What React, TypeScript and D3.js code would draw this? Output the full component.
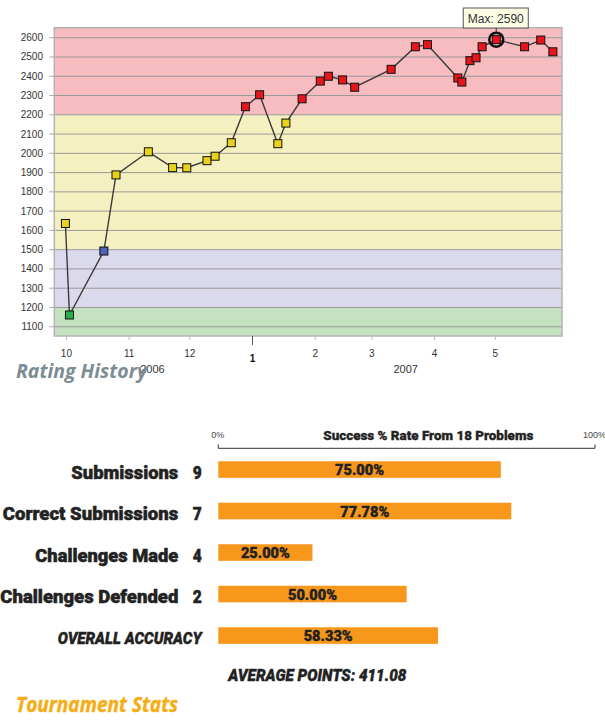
import React, { useEffect, useRef } from "react";
import * as d3 from "d3";

// rating history
const ratingDates = [
  "2006-09-30", "2006-10-02", "2006-10-19", "2006-10-25", "2006-11-10",
  "2006-11-22", "2006-11-29", "2006-12-09", "2006-12-13", "2006-12-21",
  "2006-12-28", "2007-01-04", "2007-01-13", "2007-01-17", "2007-01-25",
  "2007-02-03", "2007-02-07", "2007-02-14", "2007-02-20", "2007-03-10",
  "2007-03-22", "2007-03-28", "2007-04-12", "2007-04-14", "2007-04-18",
  "2007-04-21", "2007-04-24", "2007-05-01", "2007-05-15", "2007-05-23",
  "2007-05-29",
];
const ratingValues = [
  1636, 1161, 1493, 1888, 2008, 1926, 1925, 1962, 1985, 2055,
  2242, 2304, 2050, 2157, 2283, 2375, 2400, 2381, 2343, 2436,
  2553, 2564, 2391, 2370, 2481, 2496, 2553, 2590, 2553, 2588,
  2527,
];
const yTicks = [1100, 1200, 1300, 1400, 1500, 1600, 1700, 1800, 1900, 2000, 2100, 2200, 2300, 2400, 2500, 2600];
const bandThresholds = [1200, 1500, 2200];
const bandColors = ["#c4e2c0", "#dbd9ec", "#f5f0bf", "#f6bcc0"];
const markerColors = ["#22b24c", "#4e63b8", "#e8d31a", "#e8151c"];
const yearLabels = ["2006", "2007"];

// tournament stats
const statLabels = ["Submissions", "Correct Submissions", "Challenges Made", "Challenges Defended"];
const statCounts = [9, 7, 4, 2];
const statPercents = [75.0, 77.78, 25.0, 50.0];
const overallAccuracy = 58.33;
const averagePoints = 411.08;
const problemCount = 18;

// widths the condensed labels take in the original (no condensed font here)
const labelWidths = [107, 175.5, 143, 178];

const condensed = "Roboto, 'Liberation Sans', sans-serif";
const plain = "'Liberation Sans', Arial, sans-serif";

export default function App() {
  const ref = useRef<SVGSVGElement>(null);

  useEffect(() => {
    document.body.style.margin = "0";
    const svg = d3.select(ref.current);
    svg.selectAll("*").remove();

    // ---------- rating history ----------
    const x = d3
      .scaleTime()
      .domain([new Date(2006, 8, 25), new Date(2007, 5, 3)])
      .range([54.3, 562]);
    const y = d3.scaleLinear().domain([1052, 2652]).range([336, 27.7]);

    const g = svg.append("g");
    const [x0, x1] = x.range();
    const [yb, yt] = y.range();
    const edges = [y.domain()[0], ...bandThresholds, y.domain()[1]];

    // colour bands
    g.selectAll("rect.band")
      .data(bandColors)
      .enter()
      .append("rect")
      .attr("x", x0)
      .attr("width", x1 - x0)
      .attr("y", (d, i) => y(edges[i + 1]))
      .attr("height", (d, i) => y(edges[i]) - y(edges[i + 1]))
      .attr("fill", (d) => d);

    // grid
    g.selectAll("line.grid")
      .data(yTicks)
      .enter()
      .append("line")
      .attr("x1", x0)
      .attr("x2", x1)
      .attr("y1", (d) => y(d))
      .attr("y2", (d) => y(d))
      .attr("stroke", "#9a9a9a")
      .attr("stroke-width", 1);

    // frame
    g.append("rect")
      .attr("x", x0)
      .attr("y", yt)
      .attr("width", x1 - x0)
      .attr("height", yb - yt)
      .attr("fill", "none")
      .attr("stroke", "#b4b4b4")
      .attr("stroke-width", 1.5);

    // y axis labels + ticks
    yTicks.forEach((t) => {
      g.append("line")
        .attr("x1", 49.3)
        .attr("x2", x0)
        .attr("y1", y(t))
        .attr("y2", y(t))
        .attr("stroke", "#aaa");
      g.append("text")
        .attr("x", 43)
        .attr("y", y(t) + 3.5)
        .attr("text-anchor", "end")
        .attr("font-family", plain)
        .attr("font-size", 10)
        .attr("fill", "#333")
        .text(t);
    });

    // x axis: months
    const months = d3.timeMonth.range(new Date(2006, 9, 1), new Date(2007, 5, 1));
    const fmt = d3.timeFormat("%-m");
    months.forEach((m) => {
      const jan = m.getMonth() === 0;
      g.append("line")
        .attr("x1", x(m))
        .attr("x2", x(m))
        .attr("y1", yb)
        .attr("y2", yb + (jan ? 9 : 4))
        .attr("stroke", jan ? "#555" : "#bbb");
      g.append("text")
        .attr("x", x(m))
        .attr("y", jan ? 362 : 357)
        .attr("text-anchor", "middle")
        .attr("font-family", plain)
        .attr("font-size", 10)
        .attr("font-weight", jan ? "bold" : "normal")
        .attr("fill", jan ? "#111" : "#333")
        .text(fmt(m));
    });
    g.selectAll("text.year")
      .data(yearLabels)
      .enter()
      .append("text")
      .attr("x", (d, i) => (i === 0 ? 152.5 : 405.7))
      .attr("y", 373)
      .attr("text-anchor", "middle")
      .attr("font-family", plain)
      .attr("font-size", 11)
      .attr("fill", "#333")
      .text((d) => d);

    // line
    const pts = ratingDates.map((d, i) => ({ date: d3.isoParse(d + "T12:00:00")!, v: ratingValues[i] }));
    const line = d3
      .line<{ date: Date; v: number }>()
      .x((d) => x(d.date))
      .y((d) => y(d.v));
    g.append("path")
      .attr("d", line(pts)!)
      .attr("fill", "none")
      .attr("stroke", "#3a3a3a")
      .attr("stroke-width", 1.4);

    const band = (v: number) => d3.bisectRight(bandThresholds, v);
    g.selectAll("rect.pt")
      .data(pts)
      .enter()
      .append("rect")
      .attr("x", (d) => x(d.date) - 4)
      .attr("y", (d) => y(d.v) - 4)
      .attr("width", 8)
      .attr("height", 8)
      .attr("fill", (d) => markerColors[band(d.v)])
      .attr("stroke", "#111")
      .attr("stroke-width", 1);

    // max callout
    const maxPt = pts[d3.maxIndex(pts, (d) => d.v)];
    const mx = x(maxPt.date);
    const my = y(maxPt.v);
    g.append("circle")
      .attr("cx", mx)
      .attr("cy", my)
      .attr("r", 7)
      .attr("fill", "none")
      .attr("stroke", "#111")
      .attr("stroke-width", 2.5);
    g.append("line")
      .attr("x1", mx)
      .attr("x2", mx)
      .attr("y1", 28)
      .attr("y2", my - 7)
      .attr("stroke", "#333");
    g.append("rect")
      .attr("x", mx - 33)
      .attr("y", 8)
      .attr("width", 65)
      .attr("height", 20)
      .attr("fill", "#fdfde6")
      .attr("stroke", "#555")
      .attr("stroke-width", 1);
    g.append("text")
      .attr("x", mx - 0.5)
      .attr("y", 22.5)
      .attr("text-anchor", "middle")
      .attr("font-family", plain)
      .attr("font-size", 12)
      .attr("fill", "#333")
      .text(`Max: ${maxPt.v}`);

    g.append("text")
      .attr("x", 16)
      .attr("y", 378)
      .attr("font-family", "'Open Sans', sans-serif")
      .attr("font-size", 19)
      .attr("font-weight", "bold")
      .attr("font-style", "italic")
      .attr("fill", "#7d8c93")
      .attr("textLength", 131)
      .attr("lengthAdjust", "spacingAndGlyphs")
      .text("Rating History");

    // ---------- tournament stats ----------
    const s = svg.append("g");
    const bx = d3.scaleLinear().domain([0, 100]).range([218.3, 595]);
    const rowY = d3
      .scaleBand<number>()
      .domain([0, 1, 2, 3, 4])
      .range([448.8, 656.3])
      .paddingInner(0.6)
      .paddingOuter(0.3);

    // heavy condensed text helper
    const heavy = (sel: d3.Selection<SVGTextElement, any, any, any>, w: number) =>
      sel
        .attr("font-family", condensed)
        .attr("font-weight", 900)
        .attr("fill", "#222")
        .attr("stroke", "#222")
        .attr("stroke-width", w);

    // top axis
    s.append("path")
      .attr("d", `M${bx(0)},444.5V448.3H${bx(100)}V444.5`)
      .attr("fill", "none")
      .attr("stroke", "#333")
      .attr("stroke-width", 1);
    s.append("text")
      .attr("x", bx(0) - 7)
      .attr("y", 438)
      .attr("font-family", plain)
      .attr("font-size", 9)
      .attr("fill", "#444")
      .text("0%");
    s.append("text")
      .attr("x", bx(100) - 12)
      .attr("y", 438)
      .attr("font-family", plain)
      .attr("font-size", 9)
      .attr("fill", "#444")
      .text("100%");
    heavy(s.append("text"), 0.3)
      .attr("x", 428.3)
      .attr("y", 440)
      .attr("text-anchor", "middle")
      .attr("font-size", 13)
      .attr("textLength", 210)
      .attr("lengthAdjust", "spacingAndGlyphs")
      .text(`Success % Rate From ${problemCount} Problems`);

    const rows = [...statPercents, overallAccuracy];
    s.selectAll("rect.bar")
      .data(rows)
      .enter()
      .append("rect")
      .attr("x", bx(0))
      .attr("y", (d, i) => rowY(i)!)
      .attr("width", (d) => bx(d) - bx(0))
      .attr("height", rowY.bandwidth())
      .attr("fill", "#f7981d");
    rows.forEach((d, i) => {
      heavy(s.append("text"), 0.4)
        .attr("x", (bx(0) + bx(d)) / 2)
        .attr("y", rowY(i)! + rowY.bandwidth() / 2 + 5.5)
        .attr("text-anchor", "middle")
        .attr("font-size", 15)
        .attr("textLength", 49)
        .attr("lengthAdjust", "spacingAndGlyphs")
        .text(d.toFixed(2) + "%");
    });

    statLabels.forEach((lab, i) => {
      const base = rowY(i)! + rowY.bandwidth() / 2 + 9;
      heavy(s.append("text"), 0.5)
        .attr("x", 178.3)
        .attr("y", base)
        .attr("text-anchor", "end")
        .attr("font-size", 19)
        .attr("textLength", labelWidths[i])
        .attr("lengthAdjust", "spacingAndGlyphs")
        .text(lab);
      heavy(s.append("text"), 0.5)
        .attr("x", 201.7)
        .attr("y", base)
        .attr("text-anchor", "end")
        .attr("font-size", 19)
        .attr("textLength", 9)
        .attr("lengthAdjust", "spacingAndGlyphs")
        .text(statCounts[i]);
    });
    heavy(s.append("text"), 0.4)
      .attr("x", 201.7)
      .attr("y", rowY(4)! + rowY.bandwidth() / 2 + 8.5)
      .attr("text-anchor", "end")
      .attr("font-style", "italic")
      .attr("font-size", 17)
      .attr("textLength", 144)
      .attr("lengthAdjust", "spacingAndGlyphs")
      .text("OVERALL ACCURACY");

    heavy(s.append("text"), 0.4)
      .attr("x", 228.3)
      .attr("y", 680.7)
      .attr("font-style", "italic")
      .attr("font-size", 16.5)
      .attr("textLength", 178)
      .attr("lengthAdjust", "spacingAndGlyphs")
      .text(`AVERAGE POINTS: ${averagePoints.toFixed(2)}`);

    s.append("text")
      .attr("x", 16)
      .attr("y", 711.5)
      .attr("font-family", "'Open Sans', sans-serif")
      .attr("font-size", 22)
      .attr("font-weight", "bold")
      .attr("font-style", "italic")
      .attr("fill", "#f6ad14")
      .attr("stroke", "#f6ad14")
      .attr("stroke-width", 0.4)
      .attr("textLength", 162)
      .attr("lengthAdjust", "spacingAndGlyphs")
      .text("Tournament Stats");
  }, []);

  return <svg ref={ref} width={605} height={720} style={{ display: "block" }} />;
}
